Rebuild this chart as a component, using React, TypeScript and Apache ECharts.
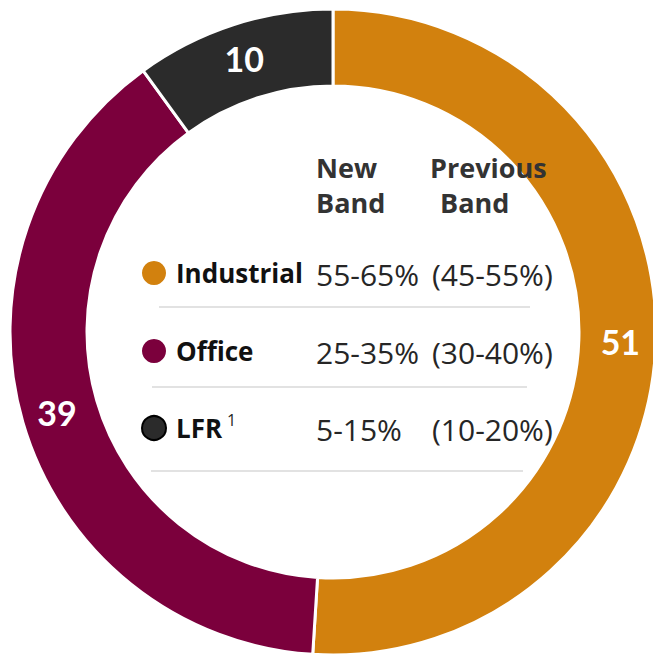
import React, { useEffect, useRef } from "react";
import * as echarts from "echarts";

const categories = ["Industrial", "Office", "LFR"];
const values = [51, 39, 10];
const colors = ["#D2810E", "#7B003C", "#2B2B2B"];
const newBand = ["55-65%", "25-35%", "5-15%"];
const previousBand = ["(45-55%)", "(30-40%)", "(10-20%)"];
const headerNew = ["New", "Band"];
const headerPrev = ["Previous", "Band"];
const footnote = "1";

const FONT = "'Open Sans', Lato, sans-serif";
const LFONT = "Lato, 'Open Sans', sans-serif";

export default function App() {
  const ref = useRef<HTMLDivElement>(null);
  useEffect(() => {
    if (!ref.current) return;
    const chart = echarts.init(ref.current, null, { renderer: "svg" });
    const rowY = [273, 351, 428];
    const graphics: any[] = [];
    // header
    headerNew.forEach((t, i) => {
      graphics.push({
        type: "text",
        z: 100,
        style: { x: 316, y: [167, 202][i], text: t, font: `bold 27px ${FONT}`, fill: "#333333", verticalAlign: "middle", align: "left" },
      });
    });
    headerPrev.forEach((t, i) => {
      graphics.push({
        type: "text",
        z: 100,
        style: { x: [430, 440][i], y: [167, 202][i], text: t, font: `bold 27px ${FONT}`, fill: "#333333", verticalAlign: "middle", align: "left" },
      });
    });
    categories.forEach((c, i) => {
      graphics.push({
        type: "circle",
        z: 100,
        shape: { cx: 154, cy: rowY[i], r: 12 },
        style: { fill: colors[i], stroke: i === 2 ? "#000" : colors[i], lineWidth: i === 2 ? 2 : 0 },
      });
      graphics.push({
        type: "text",
        z: 100,
        style: { x: 176, y: rowY[i], text: c, font: `bold 26px ${FONT}`, fill: "#111111", verticalAlign: "middle", align: "left" },
      });
      graphics.push({
        type: "text",
        z: 100,
        style: { x: 316, y: rowY[i] + 1, text: newBand[i], font: `30px ${FONT}`, fill: "#262626", verticalAlign: "middle", align: "left" },
      });
      graphics.push({
        type: "text",
        z: 100,
        style: { x: 432, y: rowY[i] + 1, text: previousBand[i], font: `30px ${FONT}`, fill: "#262626", verticalAlign: "middle", align: "left" },
      });
    });
    graphics.push({
      type: "text",
      z: 100,
      style: { x: 227, y: 420, text: footnote, font: `16px ${FONT}`, fill: "#262626", verticalAlign: "middle", align: "left" },
    });
    const lines = [
      [159, 307, 530],
      [152, 387, 527],
      [151, 471, 523],
    ];
    lines.forEach(([x1, y, x2]) => {
      graphics.push({
        type: "line",
        z: 100,
        shape: { x1, y1: y, x2, y2: y },
        style: { stroke: "#D9D9D9", lineWidth: 1.5 },
      });
    });

    chart.setOption({
      animation: false,
      backgroundColor: "#ffffff",
      series: [
        {
          type: "pie",
          center: [333, 332],
          radius: [246, 323],
          startAngle: 90,
          clockwise: true,
          silent: true,
          data: categories.map((c, i) => ({ name: c, value: values[i], itemStyle: { color: colors[i] } })),
          itemStyle: { borderColor: "#ffffff", borderWidth: 3 },
          label: {
            show: true,
            position: "inside",
            formatter: "{c}",
            color: "#ffffff",
            fontSize: 34,
            fontWeight: "bold",
            fontFamily: LFONT,
          },
          labelLine: { show: false },
        },
      ],
      graphic: graphics,
    });
    return () => chart.dispose();
  }, []);
  return <div ref={ref} style={{ position: "fixed", left: 0, top: 0, width: 653, height: 656 }} />;
}
